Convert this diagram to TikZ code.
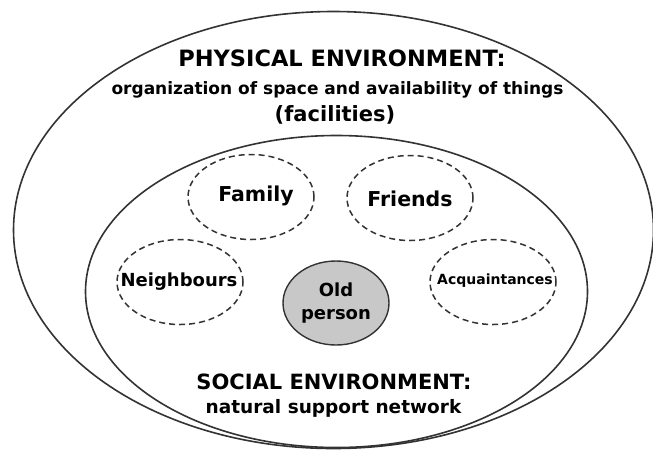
\documentclass[tikz,border=0pt]{standalone}
\usepackage{fontspec}
\setmainfont{DejaVu Sans}
\usetikzlibrary{shapes.geometric}
\definecolor{ringgray}{HTML}{333333}
\definecolor{persongray}{HTML}{C8C8C8}

\begin{document}
\begin{tikzpicture}[x=1pt,y=-1pt,
  ring/.style={draw=ringgray,line width=1.6pt,ellipse,inner sep=0pt},
  contact/.style={draw=ringgray,line width=1.5pt,dash pattern=on 6pt off 4pt,
    ellipse,inner sep=0pt,minimum width=126,minimum height=85},
  heading/.style={font=\bfseries\fontsize{#1}{23}\selectfont,inner sep=0pt,align=center}]
  % page frame, the outer ring runs up to the right edge
  \useasboundingbox (0,0) rectangle (653,451);
  \clip (0,0) rectangle (653,451);
  % physical environment (outer) and social environment (inner)
  \node[ring,minimum width=640,minimum height=437] (physical) at (333.5,230) {};
  \node[ring,minimum width=502,minimum height=312] (social) at (336.5,291.5) {};
  % texts of the two environments
  \node[heading=22.5] (phystitle) at (342,58) {PHYSICAL ENVIRONMENT:};
  \node[heading=17] (physsub) at (337.5,90) {organization of space and availability of things};
  \node[heading=21] (facilities) at (335,115) {(facilities)};
  \node[heading=21] (soctitle) at (334,382) {SOCIAL ENVIRONMENT:};
  \node[heading=18.5] (socsub) at (333.5,408) {natural support network};
  % the support network round the old person
  \node[contact] (family) at (251,197) {};
  \node[contact] (friends) at (410,198) {};
  \node[contact] (neighbours) at (180,282) {};
  \node[contact] (acquaint) at (493,282) {};
  \node[heading=20.5] (familytext) at (256,196) {Family};
  \node[heading=20.5] (friendstext) at (410,199) {Friends};
  \node[heading=18] (neighbourstext) at (179,282) {Neighbours};
  \node[heading=14] (acquainttext) at (495,281) {Acquaintances};
  \node[ring,fill=persongray,line width=1.4pt,minimum width=106,minimum height=84,
    heading=18] (person) at (336,303) {Old\\person};
\end{tikzpicture}
\end{document}
